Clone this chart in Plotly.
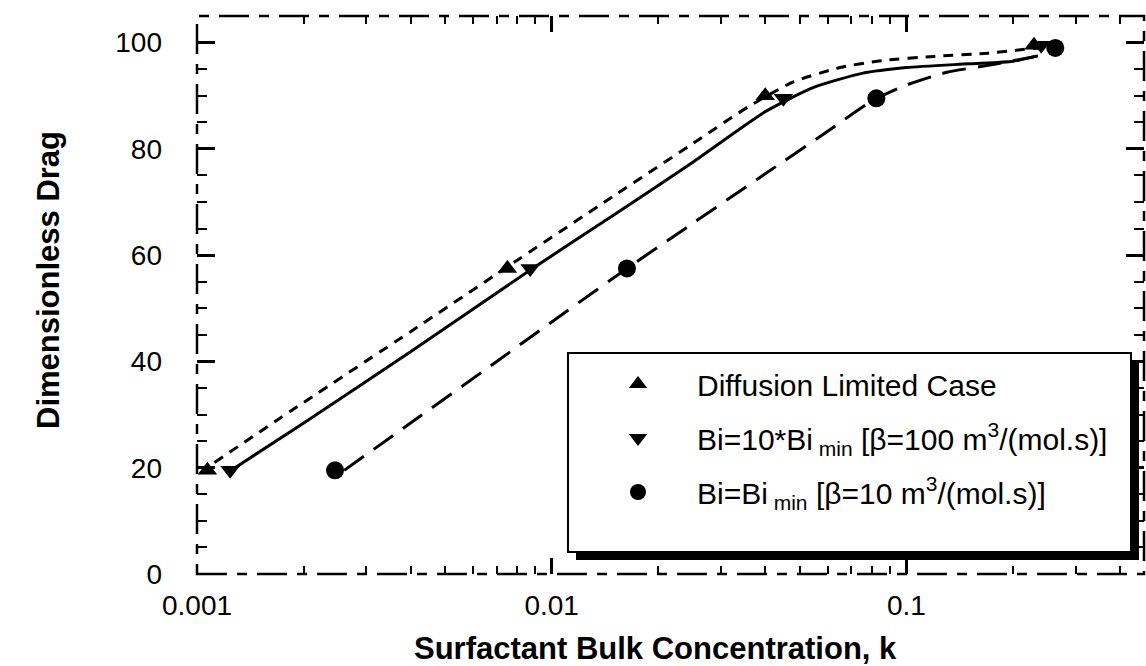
import plotly.graph_objects as go

# Marker data: (surfactant bulk concentration k, dimensionless drag)
diff_x = [0.00107, 0.0075, 0.040, 0.229]
diff_y = [19.5, 57.5, 90, 99.5]
bi10_x = [0.00124, 0.0087, 0.045, 0.24]
bi10_y = [19.5, 57.5, 89.5, 99.5]
bimin_x = [0.00245, 0.0163, 0.0823, 0.263]
bimin_y = [19.5, 57.5, 89.5, 99]

# Model curves through the markers
diff_curve_x = [0.00112, 0.002, 0.004, 0.0075, 0.015, 0.025, 0.036,
                0.048, 0.065, 0.085, 0.12, 0.17, 0.235]
diff_curve_y = [21, 32.3, 45.6, 57.8, 71.2, 81, 88,
                92.6, 95.3, 96.6, 97.4, 98, 99]
bi10_curve_x = [0.00128, 0.002, 0.004, 0.0087, 0.015, 0.025, 0.04,
                0.055, 0.075, 0.1, 0.15, 0.2, 0.235]
bi10_curve_y = [20, 28.4, 41.8, 57.2, 67.6, 77.5, 87,
                91.6, 94.2, 95.3, 96, 96.5, 97.5]
bimin_curve_x = [0.0026, 0.004, 0.007, 0.011, 0.0163, 0.025, 0.04,
                 0.06, 0.08, 0.1, 0.13, 0.18, 0.235]
bimin_curve_y = [19.5, 28.4, 40, 49.4, 57.5, 66, 75.3,
                 83.3, 89, 92, 94.4, 96, 97.5]

x_tickvals = [0.001, 0.01, 0.1]
x_ticktext = ["0.001", "0.01", "0.1"]
y_tickvals = [0, 20, 40, 60, 80, 100]

names = [
    "Diffusion Limited Case",
    "Bi=10*Bi<sub> min</sub> [β=100 m<sup>3</sup>/(mol.s)]",
    "Bi=Bi<sub> min</sub> [β=10 m<sup>3</sup>/(mol.s)]",
]

FONT = "Liberation Sans, Arial, Helvetica, sans-serif"

fig = go.Figure()

# curves
fig.add_trace(go.Scatter(x=diff_curve_x, y=diff_curve_y, mode="lines", showlegend=False,
                         line=dict(color="black", width=3, dash="10px,8px",
                                   shape="spline", smoothing=0.6)))
fig.add_trace(go.Scatter(x=bi10_curve_x, y=bi10_curve_y, mode="lines", showlegend=False,
                         line=dict(color="black", width=3, shape="spline", smoothing=0.6)))
fig.add_trace(go.Scatter(x=bimin_curve_x, y=bimin_curve_y, mode="lines", showlegend=False,
                         line=dict(color="black", width=3, dash="24px,12px",
                                   shape="spline", smoothing=0.6)))

# markers
fig.add_trace(go.Scatter(x=diff_x, y=diff_y, mode="markers", name=names[0], legendgroup="a",
                         marker=dict(symbol="triangle-up", size=17, color="black")))
fig.add_trace(go.Scatter(x=bi10_x, y=bi10_y, mode="markers", name=names[1], legendgroup="b",
                         marker=dict(symbol="triangle-down", size=17, color="black")))
fig.add_trace(go.Scatter(x=bimin_x, y=bimin_y, mode="markers", name=names[2], legendgroup="c",
                         marker=dict(symbol="circle", size=18, color="black")))

L, R, T, B = 197, 2, 16, 92
W, H = 1146, 666
pw, ph = W - L - R, H - T - B


def px_x(p):
    return (p - L) / pw


def px_y(p):
    return (H - B - p) / ph


shapes = [
    # dashed frame
    dict(type="rect", xref="paper", yref="paper", x0=0, x1=1, y0=0, y1=1,
         line=dict(color="black", width=2.5, dash="30px,10px,10px,10px"), layer="below"),
    # legend box shadow and box
    dict(type="rect", xref="paper", yref="paper",
         x0=px_x(576), x1=px_x(1139), y0=px_y(560), y1=px_y(361),
         fillcolor="black", line=dict(width=0), layer="above"),
    dict(type="rect", xref="paper", yref="paper",
         x0=px_x(568), x1=px_x(1131), y0=px_y(552), y1=px_y(353),
         fillcolor="white", line=dict(color="black", width=2), layer="above"),
]

annotations = [
    dict(text="<b>Surfactant Bulk Concentration, k</b>", xref="paper", yref="paper",
         x=px_x(655), y=px_y(648), xanchor="center", yanchor="middle",
         showarrow=False, font=dict(size=31, family=FONT)),
    dict(text="<b>Dimensionless Drag</b>", xref="paper", yref="paper",
         x=px_x(48), y=px_y(280), xanchor="center", yanchor="middle", textangle=-90,
         showarrow=False, font=dict(size=31, family=FONT)),
]

fig.update_layout(
    width=W, height=H,
    margin=dict(l=L, r=R, t=T, b=B),
    paper_bgcolor="white", plot_bgcolor="white",
    font=dict(family=FONT, size=28, color="black"),
    shapes=shapes,
    annotations=annotations,
    showlegend=True,
    legend=dict(x=px_x(579), y=px_y(358), xanchor="left", yanchor="top",
                bgcolor="rgba(0,0,0,0)", borderwidth=0,
                itemwidth=108, font=dict(size=30, family=FONT),
                tracegroupgap=12),
)

fig.update_xaxes(
    type="log", range=[-3, -0.33],
    tickvals=x_tickvals, ticktext=x_ticktext,
    showgrid=False, zeroline=False, showline=False,
    ticks="inside", ticklen=16, tickwidth=2.5, tickcolor="black",
    mirror="ticks", ticklabelstandoff=12,
    minor=dict(ticks="inside", ticklen=8, tickwidth=2, tickcolor="black",
               dtick="D1", showgrid=False),
    tickfont=dict(size=28),
)
fig.update_yaxes(
    range=[0, 105], tickvals=y_tickvals,
    showgrid=False, zeroline=False, showline=False,
    ticks="inside", ticklen=18, tickwidth=2.5, tickcolor="black",
    mirror="ticks", ticklabelstandoff=34,
    minor=dict(ticks="inside", ticklen=10, tickwidth=2, tickcolor="black",
               dtick=5, showgrid=False),
    tickfont=dict(size=28),
)

fig.write_html("out.html")
